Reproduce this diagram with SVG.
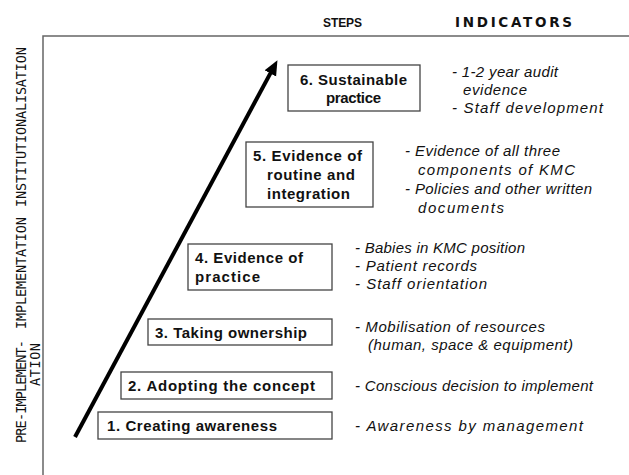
<svg xmlns="http://www.w3.org/2000/svg" width="629" height="475" viewBox="0 0 629 475">
<style>
.box{fill:#fff;stroke:#444;stroke-width:1.3}
.st{font-family:"Liberation Sans",Arial,sans-serif;font-weight:bold;font-size:15px;fill:#111}
.ind{font-family:"Liberation Sans",Arial,sans-serif;font-style:italic;font-size:15px;fill:#111}
.ax{font-family:"DejaVu Sans Mono","Liberation Mono",monospace;font-size:13.5px;fill:#111}
.hd{font-family:"Liberation Sans",Arial,sans-serif;font-weight:bold;font-size:12px;fill:#111}
.hd2{font-family:"DejaVu Sans",Verdana,sans-serif;font-weight:bold;font-size:13.5px;fill:#111}
.axis{stroke:#666;stroke-width:1.5;fill:none}
</style>
<defs>
<marker id="ah" markerUnits="userSpaceOnUse" markerWidth="16" markerHeight="14" refX="2" refY="6.5" orient="auto">
<path d="M0,0 L15,6.5 L0,13 z" fill="#000"/>
</marker>
</defs>
<g id="frame">
<path class="axis" d="M43,475 V36 H629"/>
<text class="hd" x="323" y="27" textLength="39">STEPS</text>
<text class="hd2" x="455" y="27" textLength="117">INDICATORS</text>
<text class="ax" transform="translate(25.5,127) rotate(-90)" text-anchor="middle" textLength="160">INSTITUTIONALISATION</text>
<text class="ax" transform="translate(25.5,273) rotate(-90)" text-anchor="middle" textLength="112">IMPLEMENTATION</text>
<text class="ax" transform="translate(25.5,391.5) rotate(-90)" text-anchor="middle" textLength="103">PRE-IMPLEMENT-</text>
<text class="ax" transform="translate(40,343) rotate(-90)" text-anchor="end" textLength="43">ATION</text>
</g>
<g id="connectors">
<line x1="75" y1="437" x2="271.3" y2="71.6" stroke="#000" stroke-width="4" marker-end="url(#ah)"/>
</g>
<g id="step6">
<rect class="box" x="288" y="65" width="132" height="46"/>
<text class="st" x="300" y="85" textLength="107">6. Sustainable</text>
<text class="st" x="326" y="103" textLength="55">practice</text>
</g>
<g id="step5">
<rect class="box" x="246" y="142" width="127" height="65"/>
<text class="st" x="253" y="161" textLength="109">5. Evidence of</text>
<text class="st" x="267" y="180" textLength="88">routine and</text>
<text class="st" x="267" y="199" textLength="83">integration</text>
</g>
<g id="step4">
<rect class="box" x="188" y="244" width="144" height="46"/>
<text class="st" x="195" y="263" textLength="108">4. Evidence of</text>
<text class="st" x="195" y="282" textLength="65">practice</text>
</g>
<g id="step3">
<rect class="box" x="148" y="319" width="184" height="26"/>
<text class="st" x="155" y="338" textLength="152">3. Taking ownership</text>
</g>
<g id="step2">
<rect class="box" x="121" y="372" width="211" height="27"/>
<text class="st" x="128" y="391" textLength="187">2. Adopting the concept</text>
</g>
<g id="step1">
<rect class="box" x="98" y="412" width="234" height="27"/>
<text class="st" x="107" y="431" textLength="170">1. Creating awareness</text>
</g>
<g id="indicators6">
<text class="ind" x="452" y="77" textLength="106">- 1-2 year audit</text>
<text class="ind" x="463" y="95" textLength="64">evidence</text>
<text class="ind" x="452" y="113" textLength="151">- Staff development</text>
</g>
<g id="indicators5">
<text class="ind" x="405" y="156" textLength="155">- Evidence of all three</text>
<text class="ind" x="418" y="175" textLength="157">components of KMC</text>
<text class="ind" x="405" y="194" textLength="187">- Policies and other written</text>
<text class="ind" x="418" y="213" textLength="86">documents</text>
</g>
<g id="indicators4">
<text class="ind" x="355" y="253" textLength="170">- Babies in KMC position</text>
<text class="ind" x="355" y="271" textLength="122">- Patient records</text>
<text class="ind" x="355" y="289" textLength="132">- Staff orientation</text>
</g>
<g id="indicators3">
<text class="ind" x="355" y="332" textLength="190">- Mobilisation of resources</text>
<text class="ind" x="368" y="350" textLength="205">(human, space &amp; equipment)</text>
</g>
<g id="indicators2">
<text class="ind" x="355" y="391" textLength="238">- Conscious decision to implement</text>
</g>
<g id="indicators1">
<text class="ind" x="355" y="431" textLength="228">-  Awareness by management</text>
</g>
</svg>
